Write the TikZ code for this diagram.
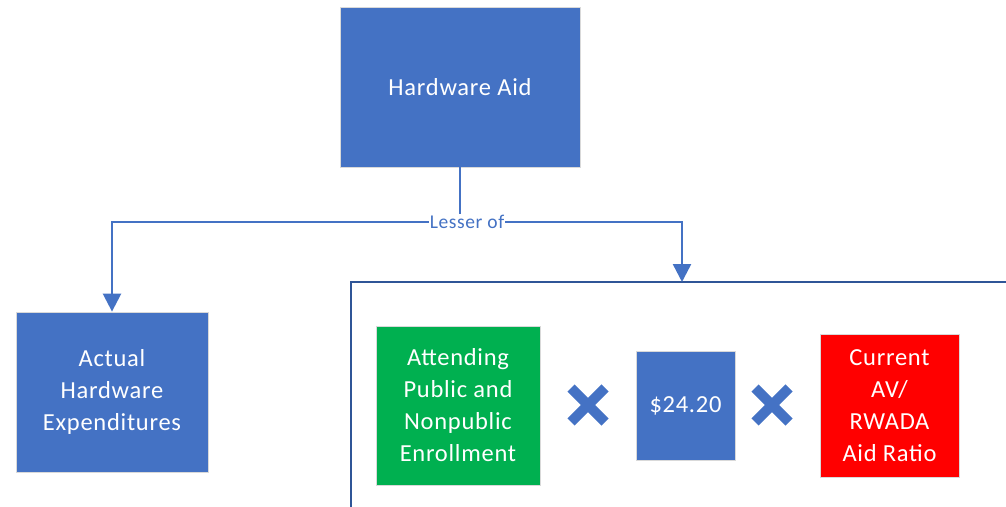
\documentclass[tikz,border=0pt]{standalone}
\usepackage{fontspec}
\setmainfont{Carlito}[LetterSpace=3]
\usetikzlibrary{positioning,arrows.meta}
\definecolor{aidblue}{HTML}{4472C4}
\definecolor{framblue}{HTML}{2F5597}
\definecolor{enrgreen}{HTML}{00B050}
\definecolor{ratiored}{HTML}{FF0000}

\begin{document}
\begin{tikzpicture}[x=1pt,y=-1pt,
    box/.style={draw=black!15, line width=0.8pt, text=white, align=center,
      font=\fontsize{24.5}{32}\selectfont, inner sep=0pt},
    link/.style={aidblue, line width=2.5pt},
    tip/.style={-{Triangle[length=18pt,width=18pt]}},
    times/.style={aidblue, line width=10pt}]
  \useasboundingbox (0,0) rectangle (1006,506);

  % Top
  \node[box, fill=aidblue, minimum width=240, minimum height=160] (aid) at (460,87) {Hardware Aid};
  \node[text=aidblue, fill=white, inner sep=1pt, font=\fontsize{19.5}{22}\selectfont] (lesser) at (467,222) {Lesser of};

  % Left branch
  \node[box, fill=aidblue, minimum width=192, minimum height=160] (actual) at (112,392) {Actual\\Hardware\\Expenditures};

  % Right branch
  \coordinate (frametop) at (682,282);
  \draw[framblue, line width=2pt] (351,520) |- (1020,282);
  \node[box, fill=enrgreen, minimum width=164, minimum height=159] (enroll) at (458,405.5) {Attending\\Public and\\Nonpublic\\Enrollment};
  \node[box, fill=aidblue, minimum width=99, minimum height=109] (rate) at (685.5,405.5) {\$24.20};
  \node[box, fill=ratiored, minimum width=139, minimum height=143] (ratio) at (889.5,405.5) {Current\\AV/\\RWADA\\Aid Ratio};
  \foreach \c in {588,772}
    \draw[times] (\c-17,388) -- (\c+17,422) (\c-17,422) -- (\c+17,388);

  % Connectors
  \draw[link] (aid.south) -- (aid.south |- lesser);
  \draw[link, tip] (lesser.west) -| (actual.north);
  \draw[link, tip] (lesser.east) -| (frametop);
  \node[text=aidblue, fill=white, inner sep=1pt, font=\fontsize{19.5}{22}\selectfont] at (lesser) {Lesser of};
\end{tikzpicture}
\end{document}
